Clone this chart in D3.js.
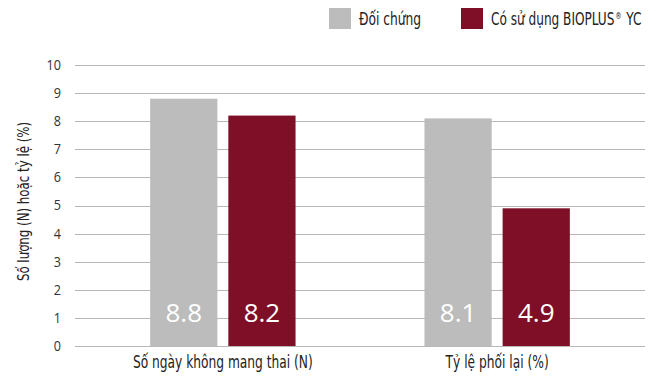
<!DOCTYPE html>
<html>
<head>
<meta charset="utf-8">
<script src="https://cdn.jsdelivr.net/npm/d3@7"></script>
<style>
  body { margin: 0; background: #fff; }
  text { font-family: "Open Sans", sans-serif; }
  .narrow { font-family: "DejaVu Sans Condensed", "DejaVu Sans", sans-serif; font-stretch: condensed; }
</style>
</head>
<body>
<div id="chart"></div>
<script>
// chart data
var categories = ["Số ngày không mang thai (N)", "Tỷ lệ phối lại (%)"];
var seriesNames = ["Đối chứng", "Có sử dụng BIOPLUS® YC"];
var controlValues = [8.8, 8.1];
var bioplusValues = [8.2, 4.9];
var yTicks = [0, 1, 2, 3, 4, 5, 6, 7, 8, 9, 10];
var yTitle = "Số lượng (N) hoặc tỷ lệ (%)";

var colors = ["#bcbcbc", "#7e0f27"];
var W = 668, H = 382;
var margin = {top: 65, right: 23, bottom: 36, left: 75};

var svg = d3.select("#chart").append("svg")
  .attr("width", W)
  .attr("height", H);

var rows = categories.map(function(c, i) {
  return {cat: c, vals: [controlValues[i], bioplusValues[i]]};
});

// squeeze a text horizontally to look like a condensed face
function squeeze(sel, f) {
  sel.each(function() {
    var len = this.getComputedTextLength();
    d3.select(this)
      .attr("textLength", len * f)
      .attr("lengthAdjust", "spacingAndGlyphs");
  });
}

var x0 = d3.scaleBand()
  .domain(categories)
  .range([margin.left, W - margin.right])
  .paddingInner(0.47)
  .paddingOuter(0.274);

var x1 = d3.scaleBand()
  .domain([0, 1])
  .range([0, x0.bandwidth()])
  .paddingInner(0.14);

var y = d3.scaleLinear()
  .domain([0, 10])
  .range([H - margin.bottom, margin.top]);

// gridlines
svg.append("g")
  .selectAll("line")
  .data(yTicks)
  .join("line")
  .attr("x1", margin.left)
  .attr("x2", W - margin.right)
  .attr("y1", function(d) { return Math.round(y(d)) + 0.5; })
  .attr("y2", function(d) { return Math.round(y(d)) + 0.5; })
  .attr("stroke", "#b8b8b8")
  .attr("stroke-width", 1);

// y tick labels
svg.append("g")
  .selectAll("text")
  .data(yTicks)
  .join("text")
  .attr("x", 61)
  .attr("y", function(d) { return y(d); })
  .attr("dy", "0.35em")
  .attr("text-anchor", "end")
  .attr("font-size", 14)
  .attr("fill", "#333")
  .text(function(d) { return d; })
  .call(squeeze, 0.9);

// y title
svg.append("text")
  .attr("class", "narrow")
  .attr("transform", "translate(29," + ((margin.top + H - margin.bottom) / 2 - 4) + ") rotate(-90)")
  .attr("text-anchor", "middle")
  .attr("font-size", 16)
  .attr("fill", "#222")
  .text(yTitle)
  .call(squeeze, 0.82);

// bars
var group = svg.append("g")
  .selectAll("g")
  .data(rows)
  .join("g")
  .attr("transform", function(d) { return "translate(" + x0(d.cat) + ",0)"; });

group.selectAll("rect")
  .data(function(d) { return d.vals; })
  .join("rect")
  .attr("x", function(d, i) { return x1(i); })
  .attr("y", function(d) { return y(d); })
  .attr("width", x1.bandwidth())
  .attr("height", function(d) { return y(0) - y(d); })
  .attr("fill", function(d, i) { return colors[i]; });

// value labels
group.selectAll("text.val")
  .data(function(d) { return d.vals; })
  .join("text")
  .attr("class", "val")
  .attr("x", function(d, i) { return x1(i) + x1.bandwidth() / 2; })
  .attr("y", y(0) - 24)
  .attr("text-anchor", "middle")
  .attr("font-size", 26)
  .attr("fill", "#fff")
  .text(function(d) { return d.toFixed(1); });

// category labels
svg.append("g")
  .selectAll("text")
  .data(categories)
  .join("text")
  .attr("class", "narrow")
  .attr("x", function(d) { return x0(d) + x0.bandwidth() / 2; })
  .attr("y", H - 14)
  .attr("text-anchor", "middle")
  .attr("font-size", 17)
  .attr("fill", "#222")
  .text(function(d) { return d; })
  .call(squeeze, 0.8);

// legend
var legendX = [329, 461];
var legend = svg.append("g")
  .selectAll("g")
  .data(seriesNames)
  .join("g")
  .attr("transform", function(d, i) { return "translate(" + legendX[i] + ",8)"; });

legend.append("rect")
  .attr("width", 22)
  .attr("height", 21)
  .attr("fill", function(d, i) { return colors[i]; });

var legendText = legend.append("text")
  .attr("class", "narrow")
  .attr("x", 30)
  .attr("y", 17)
  .attr("font-size", 17)
  .attr("fill", "#222");

// split off the ® so it can sit raised and small
legendText.each(function(d) {
  var t = d3.select(this);
  var parts = d.split("®");
  t.append("tspan").text(parts[0]);
  if (parts.length > 1) {
    t.append("tspan").attr("font-size", 9).attr("dx", 1).attr("dy", -6).text("®");
    t.append("tspan").attr("dx", 1).attr("dy", 6).text(parts[1]);
  }
});
legendText.call(squeeze, 0.8);
</script>
</body>
</html>
